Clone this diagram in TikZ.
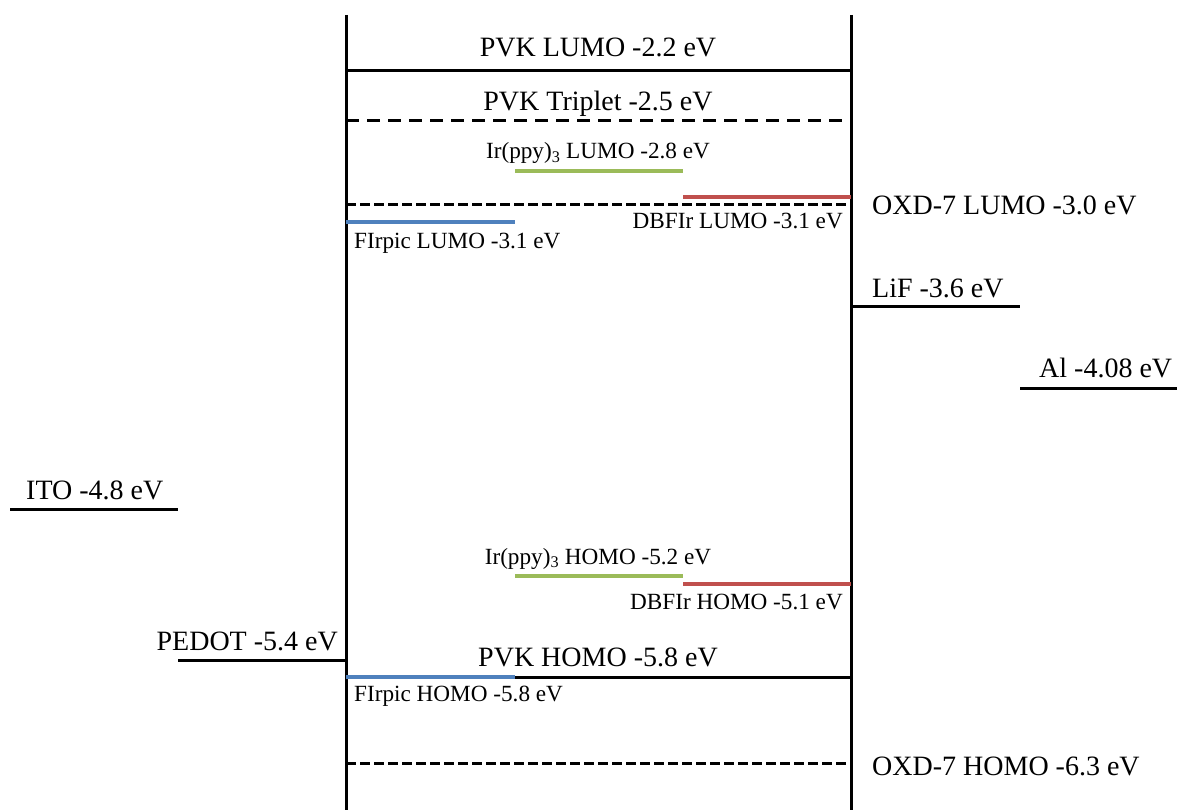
\documentclass[tikz,border=0pt]{standalone}
\usepackage{fontspec}
\setmainfont{Liberation Serif}
\definecolor{lgreen}{RGB}{155,187,89}
\definecolor{lred}{RGB}{192,80,77}
\definecolor{lblue}{RGB}{79,129,189}
\tikzset{
  big/.style={inner sep=0pt, font=\fontsize{28}{33}\selectfont},
  small/.style={inner sep=0pt, font=\fontsize{23.2}{27}\selectfont},
  level/.style={line width=3pt},
  dlevel/.style={line width=3pt, dash pattern=on 9.5pt off 4.5pt},
  tlevel/.style={line width=3pt, dash pattern=on 13pt off 8pt},
  clevel/.style={line width=3.5pt},
}
\begin{document}
\begin{tikzpicture}[x=1pt,y=-1pt]
\useasboundingbox (0,0) rectangle (1177,810);
% vertical walls
\coordinate (lt) at (346,15); \coordinate (lb) at (346,810);
\coordinate (rt) at (851,15); \coordinate (rb) at (851,810);
\draw[level] (lt) -- (lb);
\draw[level] (rt) -- (rb);
% PVK LUMO
\coordinate (pl1) at (346,71); \coordinate (pl2) at (851,71);
\draw[level] (pl1) -- (pl2);
\node[big, anchor=base] (tpl) at (598,57) {PVK LUMO -2.2 eV};
% PVK triplet
\coordinate (pt1) at (346,121); \coordinate (pt2) at (851,121);
\draw[tlevel] (pt1) -- (pt2);
\node[big, anchor=base] (tpt) at (598,111) {PVK Triplet -2.5 eV};
% Ir(ppy)3 LUMO
\coordinate (il1) at (515,171); \coordinate (il2) at (683,171);
\draw[clevel, lgreen] (il1) -- (il2);
\node[small, anchor=base] (til) at (598,159) {Ir(ppy)\textsubscript{3} LUMO -2.8 eV};
% DBFIr LUMO
\coordinate (dl1) at (683,197); \coordinate (dl2) at (851,197);
\draw[clevel, lred] (dl1) -- (dl2);
\node[small, anchor=base east] (tdl) at (843,229) {DBFIr LUMO -3.1 eV};
% OXD-7 LUMO
\coordinate (ol1) at (346,205); \coordinate (ol2) at (851,205);
\draw[dlevel] (ol1) -- (ol2);
\node[big, anchor=base west] (tol) at (872,215) {OXD-7 LUMO -3.0 eV};
% FIrpic LUMO
\coordinate (fl1) at (346,222); \coordinate (fl2) at (515,222);
\draw[clevel, lblue] (fl1) -- (fl2);
\node[small, anchor=base west] (tfl) at (354,249) {FIrpic LUMO -3.1 eV};
% LiF
\coordinate (lif1) at (851,306); \coordinate (lif2) at (1020,306);
\draw[level] (lif1) -- (lif2);
\node[big, anchor=base west] (tlif) at (872,297) {LiF -3.6 eV};
% Al
\coordinate (al1) at (1020,388); \coordinate (al2) at (1177,388);
\draw[level] (al1) -- (al2);
\node[big, anchor=base west] (tal) at (1039,377) {Al -4.08 eV};
% ITO
\coordinate (ito1) at (10,509); \coordinate (ito2) at (178,509);
\draw[level] (ito1) -- (ito2);
\node[big, anchor=base west] (tito) at (26,499) {ITO -4.8 eV};
% Ir(ppy)3 HOMO
\coordinate (ih1) at (515,576); \coordinate (ih2) at (683,576);
\draw[clevel, lgreen] (ih1) -- (ih2);
\node[small, anchor=base] (tih) at (598,564) {Ir(ppy)\textsubscript{3} HOMO -5.2 eV};
% DBFIr HOMO
\coordinate (dh1) at (683,584); \coordinate (dh2) at (851,584);
\draw[clevel, lred] (dh1) -- (dh2);
\node[small, anchor=base east] (tdh) at (843,609) {DBFIr HOMO -5.1 eV};
% PEDOT
\coordinate (pe1) at (178,660); \coordinate (pe2) at (346,660);
\draw[level] (pe1) -- (pe2);
\node[big, anchor=base east] (tpe) at (338,650) {PEDOT -5.4 eV};
% PVK HOMO
\coordinate (ph1) at (346,677); \coordinate (ph2) at (851,677);
\draw[level] (ph1) -- (ph2);
\node[big, anchor=base] (tph) at (598,666) {PVK HOMO -5.8 eV};
% FIrpic HOMO
\coordinate (fh1) at (346,677); \coordinate (fh2) at (515,677);
\draw[clevel, lblue] (fh1) -- (fh2);
\node[small, anchor=base west] (tfh) at (354,701) {FIrpic HOMO -5.8 eV};
% OXD-7 HOMO
\coordinate (oh1) at (346,763); \coordinate (oh2) at (851,763);
\draw[dlevel] (oh1) -- (oh2);
\node[big, anchor=base west] (toh) at (872,775) {OXD-7 HOMO -6.3 eV};
\end{tikzpicture}
\end{document}
